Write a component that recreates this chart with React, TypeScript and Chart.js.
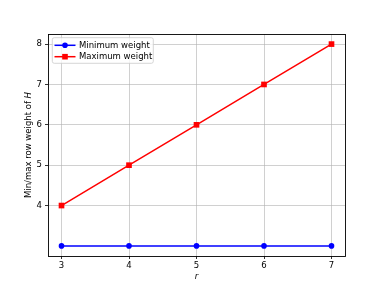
import React, { useEffect, useRef } from "react";
import { Chart, registerables } from "chart.js";

Chart.register(...registerables);

const rValues = [3, 4, 5, 6, 7];
const minWeight = [3, 3, 3, 3, 3];
const maxWeight = [4, 5, 6, 7, 8];
const xTicks = [3, 4, 5, 6, 7];
const yTicks = [4, 5, 6, 7, 8];
const seriesNames = ["Minimum weight", "Maximum weight"];
const FONT = "DejaVu Sans";
const FS = 8.5;

const framePlugin = {
  id: "frameAndTitles",
  afterDraw(chart: any) {
    const { ctx, chartArea: a } = chart;
    ctx.save();
    ctx.strokeStyle = "#000";
    ctx.lineWidth = 0.9;
    ctx.strokeRect(Math.round(a.left) + 0.5, Math.round(a.top) + 0.5, Math.round(a.right - a.left), Math.round(a.bottom - a.top));
    ctx.fillStyle = "#000";
    ctx.font = `italic ${FS}px "${FONT}"`;
    ctx.textAlign = "center";
    ctx.textBaseline = "middle";
    ctx.fillText("r", (a.left + a.right) / 2, 277);
    const part1 = "Min/max row weight of ";
    const part2 = "H";
    ctx.font = `${FS}px "${FONT}"`;
    const w1 = ctx.measureText(part1).width;
    ctx.font = `italic ${FS}px "${FONT}"`;
    const w2 = ctx.measureText(part2).width;
    const total = w1 + w2;
    ctx.translate(29, (a.top + a.bottom) / 2);
    ctx.rotate(-Math.PI / 2);
    ctx.textAlign = "left";
    ctx.font = `${FS}px "${FONT}"`;
    ctx.fillText(part1, -total / 2, 0);
    ctx.font = `italic ${FS}px "${FONT}"`;
    ctx.fillText(part2, -total / 2 + w1, 0);
    ctx.restore();

    ctx.save();
    const bx = a.left + 4.3, by = a.top + 3.7, bw = 101, bh = 25.6;
    ctx.beginPath();
    const r = 2;
    ctx.moveTo(bx + r, by);
    ctx.lineTo(bx + bw - r, by);
    ctx.quadraticCurveTo(bx + bw, by, bx + bw, by + r);
    ctx.lineTo(bx + bw, by + bh - r);
    ctx.quadraticCurveTo(bx + bw, by + bh, bx + bw - r, by + bh);
    ctx.lineTo(bx + r, by + bh);
    ctx.quadraticCurveTo(bx, by + bh, bx, by + bh - r);
    ctx.lineTo(bx, by + r);
    ctx.quadraticCurveTo(bx, by, bx + r, by);
    ctx.closePath();
    ctx.fillStyle = "rgba(255,255,255,0.8)";
    ctx.fill();
    ctx.strokeStyle = "#cccccc";
    ctx.lineWidth = 0.8;
    ctx.stroke();
    const rows = [
      { y: by + 7.6, color: "#0000ff", shape: "circle", label: seriesNames[0] },
      { y: by + 19, color: "#ff0000", shape: "square", label: seriesNames[1] },
    ];
    rows.forEach((row) => {
      ctx.strokeStyle = row.color;
      ctx.fillStyle = row.color;
      ctx.lineWidth = 1.5;
      ctx.beginPath();
      ctx.moveTo(bx + 2.2, row.y);
      ctx.lineTo(bx + 23.2, row.y);
      ctx.stroke();
      const mx = bx + 12.7;
      if (row.shape === "circle") {
        ctx.beginPath();
        ctx.arc(mx, row.y, 2.8, 0, Math.PI * 2);
        ctx.fill();
      } else {
        ctx.fillRect(mx - 2.8, row.y - 2.8, 5.6, 5.6);
      }
      ctx.fillStyle = "#000";
      ctx.font = `${FS}px "${FONT}"`;
      ctx.textAlign = "left";
      ctx.textBaseline = "middle";
      ctx.fillText(row.label, bx + 26.7, row.y + 0.5);
    });
    ctx.restore();
  },
};

export default function App() {
  const ref = useRef<HTMLCanvasElement>(null);
  useEffect(() => {
    if (!ref.current) return;
    const gridColor = "rgba(176,176,176,0.75)";
    const chart = new Chart(ref.current, {
      type: "line",
      data: {
        datasets: [
          {
            label: seriesNames[0],
            data: rValues.map((x, i) => ({ x, y: minWeight[i] })),
            borderColor: "#0000ff",
            backgroundColor: "#0000ff",
            borderWidth: 1.5,
            pointStyle: "circle",
            pointRadius: 2.8,
            pointBorderWidth: 0,
          },
          {
            label: seriesNames[1],
            data: rValues.map((x, i) => ({ x, y: maxWeight[i] })),
            borderColor: "#ff0000",
            backgroundColor: "#ff0000",
            borderWidth: 1.5,
            pointStyle: "rect",
            pointRadius: 4,
            pointBorderWidth: 0,
          },
        ],
      },
      options: {
        responsive: false,
        animation: false,
        layout: { padding: { top: 34, right: 39, left: 0, bottom: 0 } },
        plugins: { legend: { display: false }, tooltip: { enabled: false } },
        scales: {
          x: {
            type: "linear",
            min: 2.8,
            max: 7.2,
            afterBuildTicks: (s: any) => {
              s.ticks = xTicks.map((v) => ({ value: v }));
            },
            afterFit: (s: any) => {
              s.height = 32;
            },
            grid: { color: gridColor, lineWidth: 0.8, tickColor: "#000", tickLength: 3, drawTicks: true },
            border: { display: false },
            ticks: { color: "#000", font: { family: FONT, size: FS }, padding: 2, maxRotation: 0 },
          },
          y: {
            type: "linear",
            min: 2.75,
            max: 8.25,
            afterBuildTicks: (s: any) => {
              s.ticks = yTicks.map((v) => ({ value: v }));
            },
            afterFit: (s: any) => {
              s.width = 48;
            },
            grid: { color: gridColor, lineWidth: 0.8, tickColor: "#000", tickLength: 3, drawTicks: true },
            border: { display: false },
            ticks: { color: "#000", font: { family: FONT, size: FS }, padding: 3 },
          },
        },
      },
      plugins: [framePlugin],
    });
    return () => chart.destroy();
  }, []);
  return (
    <div style={{ position: "absolute", left: 0, top: 0, width: 384, height: 288, background: "#fff" }}>
      <canvas ref={ref} width={384} height={288} style={{ width: 384, height: 288 }} />
    </div>
  );
}
